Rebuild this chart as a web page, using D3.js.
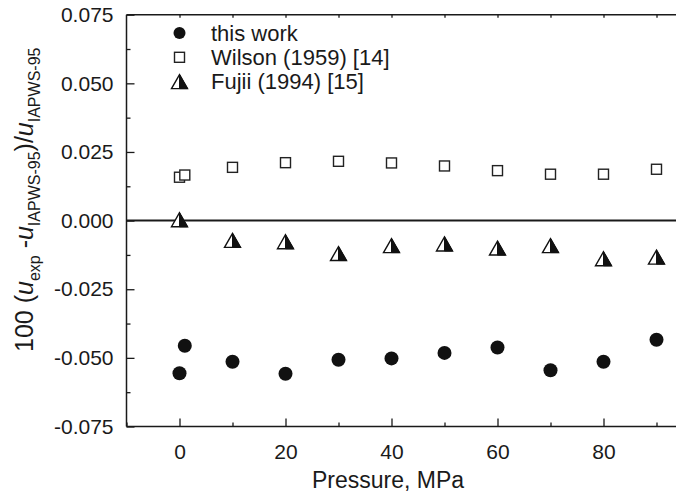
<!DOCTYPE html>
<html>
<head>
<meta charset="utf-8">
<script src="https://cdn.jsdelivr.net/npm/d3@7"></script>
<style>
  html, body { margin: 0; padding: 0; background: #fff; }
  svg text { font-family: "Liberation Sans", Arial, sans-serif; fill: #1a1a1a; }
</style>
</head>
<body>
<svg id="chart" width="676" height="496"></svg>
<script>
// Relative deviations of measured speed of sound from IAPWS-95, in percent
const pressureThisWork = [0, 1, 10, 20, 30, 40, 50, 60, 70, 80, 90];
const devThisWork = [-0.0556, -0.0456, -0.0514, -0.0558, -0.0507, -0.0502, -0.0482, -0.0462, -0.0545, -0.0514, -0.0434];

const pressureWilson = [0, 1, 10, 20, 30, 40, 50, 60, 70, 80, 90];
const devWilson = [0.0158, 0.0166, 0.0194, 0.0211, 0.0216, 0.0210, 0.0199, 0.0182, 0.0169, 0.0169, 0.0187];

const pressureFujii = [0, 10, 20, 30, 40, 50, 60, 70, 80, 90];
const devFujii = [0.0003, -0.0072, -0.0077, -0.0120, -0.0091, -0.0085, -0.0100, -0.0091, -0.0139, -0.0133];

const xMajorTicks = [0, 20, 40, 60, 80];
const xMinorTicks = [-10, 10, 30, 50, 70, 90];
const yMajorTicks = [-0.075, -0.050, -0.025, 0.000, 0.025, 0.050, 0.075];
const yMinorTicks = [-0.0625, -0.0375, -0.0125, 0.0125, 0.0375, 0.0625];

const legendLabels = ["this work", "Wilson (1959) [14]", "Fujii (1994) [15]"];

const svg = d3.select("#chart");
const ink = "#1a1a1a";

const x = d3.scaleLinear().domain([-10, 100]).range([126.5, 709.5]);
const y = d3.scaleLinear().domain([-0.075, 0.075]).range([426.5, 14.7]);

// Plain hyphen-minus for negative labels
const fmtY = d3.format(".3f");
const fmtYLabel = v => fmtY(v).replace("\u2212", "-").replace(/^-0\.000$/, "0.000");

// Frame (left, bottom, top; the right side runs past the visible area)
const frame = svg.append("g").attr("stroke", ink).attr("stroke-width", 1.5).attr("fill", "none");
frame.append("line").attr("x1", x(-10)).attr("x2", x(-10)).attr("y1", y(-0.075)).attr("y2", y(0.075));
frame.append("line").attr("x1", x(-10)).attr("x2", x(100)).attr("y1", y(-0.075)).attr("y2", y(-0.075));
frame.append("line").attr("x1", x(-10)).attr("x2", x(100)).attr("y1", y(0.075)).attr("y2", y(0.075));

// Bottom axis: inward ticks
const xAxisMajor = d3.axisBottom(x).tickValues(xMajorTicks).tickSize(-8).tickPadding(17.5).tickFormat(d3.format("d"));
const xAxisMinor = d3.axisBottom(x).tickValues(xMinorTicks).tickSize(-4).tickFormat("");
svg.append("g").attr("transform", `translate(0,${y(-0.075)})`).call(xAxisMajor);
svg.append("g").attr("transform", `translate(0,${y(-0.075)})`).call(xAxisMinor);

// Top edge: short inward ticks every 10 MPa
const xAxisTop = d3.axisTop(x).tickValues(xMajorTicks.concat(xMinorTicks).filter(v => v > -10)).tickSize(-3).tickFormat("");
svg.append("g").attr("transform", `translate(0,${y(0.075)})`).call(xAxisTop);

// Left axis: inward ticks
const yAxisMajor = d3.axisLeft(y).tickValues(yMajorTicks).tickSize(-8).tickPadding(13).tickFormat(fmtYLabel);
const yAxisMinor = d3.axisLeft(y).tickValues(yMinorTicks).tickSize(-4).tickFormat("");
svg.append("g").attr("transform", `translate(${x(-10)},0)`).call(yAxisMajor);
svg.append("g").attr("transform", `translate(${x(-10)},0)`).call(yAxisMinor);

svg.selectAll(".domain").remove();
svg.selectAll(".tick line").attr("stroke", ink).attr("stroke-width", 1.3);
svg.selectAll(".tick text").attr("font-size", 21).attr("fill", ink)
  .style("font-family", '"Liberation Sans", Arial, sans-serif');

// Zero reference line
svg.append("line")
  .attr("x1", x(-10)).attr("x2", x(100))
  .attr("y1", y(0)).attr("y2", y(0))
  .attr("stroke", ink).attr("stroke-width", 2);

// Marker shapes
const triHalfW = 8, triHalfH = 7;
function drawCircle(g, cx, cy, r) {
  g.append("circle").attr("cx", cx).attr("cy", cy).attr("r", r).attr("fill", "#111");
}
function drawSquare(g, cx, cy, s) {
  g.append("rect").attr("x", cx - s / 2).attr("y", cy - s / 2).attr("width", s).attr("height", s)
    .attr("fill", "#fff").attr("stroke", "#222").attr("stroke-width", 1.4);
}
function drawHalfTriangle(g, cx, cy) {
  const full = `M${cx},${cy - triHalfH} L${cx + triHalfW},${cy + triHalfH} L${cx - triHalfW},${cy + triHalfH} Z`;
  const right = `M${cx},${cy - triHalfH} L${cx + triHalfW},${cy + triHalfH} L${cx},${cy + triHalfH} Z`;
  g.append("path").attr("d", full).attr("fill", "#fff").attr("stroke", "#111").attr("stroke-width", 1.4).attr("stroke-linejoin", "miter");
  g.append("path").attr("d", right).attr("fill", "#111").attr("stroke", "#111").attr("stroke-width", 1);
}

const marks = svg.append("g");
pressureWilson.forEach((p, i) => drawSquare(marks, x(p), y(devWilson[i]), 10));
pressureFujii.forEach((p, i) => drawHalfTriangle(marks, x(p), y(devFujii[i])));
pressureThisWork.forEach((p, i) => drawCircle(marks, x(p), y(devThisWork[i]), 7));

// Legend
const legend = svg.append("g");
const legX = 179.5, legTextX = 211, legY0 = 33, legStep = 24.3;
drawCircle(legend, legX, legY0, 6);
drawSquare(legend, legX, legY0 + legStep, 10);
drawHalfTriangle(legend, legX, legY0 + 2 * legStep);
legendLabels.forEach((t, i) => {
  legend.append("text").attr("x", legTextX).attr("y", legY0 + i * legStep + 7.5)
    .attr("font-size", 22).text(t);
});

// Axis titles
svg.append("text").attr("x", 388).attr("y", 488)
  .attr("text-anchor", "middle").attr("font-size", 23).text("Pressure, MPa");

const yt = svg.append("text")
  .attr("transform", "translate(33,352) rotate(-90)")
  .attr("font-size", 25);
const parts = [
  { t: "100 (", sub: false, it: false },
  { t: "u", sub: false, it: true },
  { t: "exp", sub: true },
  { t: " -", sub: false, it: false },
  { t: "u", sub: false, it: true },
  { t: "IAPWS-95", sub: true },
  { t: ")/", sub: false, it: false },
  { t: "u", sub: false, it: true },
  { t: "IAPWS-95", sub: true }
];
let prevSub = false;
parts.forEach(p => {
  const ts = yt.append("tspan").text(p.t);
  if (p.sub) {
    ts.attr("font-size", 16).attr("dy", 7);
  } else {
    ts.attr("font-size", 25).attr("dy", prevSub ? -7 : 0);
    if (p.it) ts.attr("font-style", "italic");
  }
  prevSub = !!p.sub;
});
</script>
</body>
</html>
